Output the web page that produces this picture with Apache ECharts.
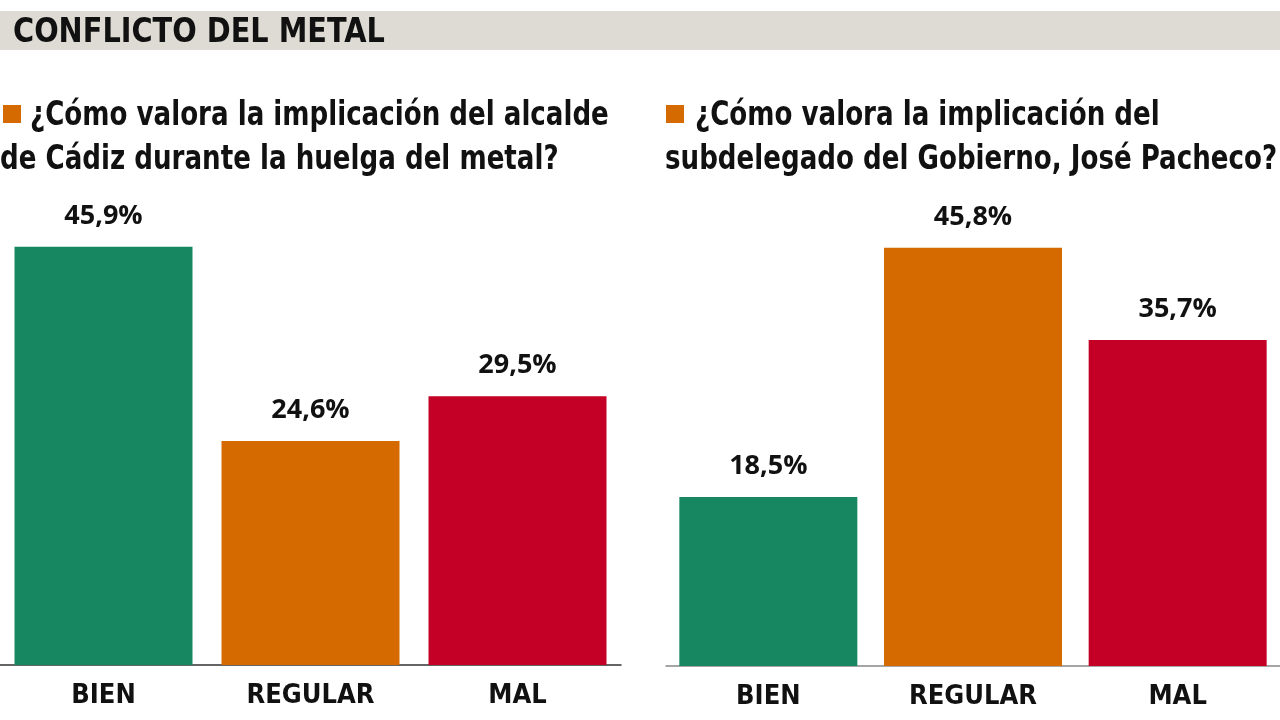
<!DOCTYPE html>
<html>
<head>
<meta charset="utf-8">
<script src="https://cdn.jsdelivr.net/npm/echarts@6/dist/echarts.min.js"></script>
<style>
html,body{margin:0;padding:0;background:#fff;}
#chart{width:1280px;height:720px;}
</style>
</head>
<body>
<div id="chart"></div>
<script>
const categories = ['BIEN', 'REGULAR', 'MAL'];
const alcaldeValues = [45.9, 24.6, 29.5];
const subdelegadoValues = [18.5, 45.8, 35.7];
const barColors = ['#168760', '#d56a00', '#c40026'];
const headerTitle = 'CONFLICTO DEL METAL';
const leftQuestion = ['¿Cómo valora la implicación del alcalde', 'de Cádiz durante la huelga del metal?'];
const rightQuestion = ['¿Cómo valora la implicación del', 'subdelegado del Gobierno, José Pacheco?'];

const condFont = '"Liberation Sans Narrow", "DejaVu Sans Condensed", "Roboto", sans-serif';
const fmt = p => String(p.value).replace('.', ',') + '%';

const chart = echarts.init(document.getElementById('chart'));

function barSeries(values, idx) {
  return {
    type: 'bar',
    xAxisIndex: idx, yAxisIndex: idx,
    barWidth: 178,
    data: values.map((v, i) => ({ value: v, itemStyle: { color: barColors[i] } })),
    label: {
      show: true, position: 'top', distance: 17,
      formatter: fmt,
      fontFamily: '"Open Sans", sans-serif', fontWeight: 700, fontSize: 27, color: '#111'
    }
  };
}

function xAxis(idx, lineColor) {
  return {
    type: 'category', gridIndex: idx, data: categories,
    axisTick: { show: false },
    axisLine: { show: true, lineStyle: { color: lineColor, width: 1.5 } },
    axisLabel: { margin: 17, fontFamily: condFont, fontWeight: 700, fontSize: 27, color: '#111' }
  };
}

function yAxis(idx) {
  return {
    type: 'value', gridIndex: idx, min: 0, max: 50,
    show: false, splitLine: { show: false }
  };
}

function textEl(text, x, y, size, sx) {
  return {
    type: 'text', x: x, y: y, scaleX: sx || 1,
    style: {
      text: text, fill: '#111',
      font: '700 ' + size + 'px ' + condFont,
      textAlign: 'left', verticalAlign: 'middle', textVerticalAlign: 'middle'
    }
  };
}

chart.setOption({
  animation: false,
  grid: [
    { left: 0, width: 621, top: 209.5, bottom: 55 },
    { left: 666, width: 620, top: 209.5, bottom: 54 }
  ],
  xAxis: [xAxis(0, '#333'), xAxis(1, '#888')],
  yAxis: [yAxis(0), yAxis(1)],
  series: [barSeries(alcaldeValues, 0), barSeries(subdelegadoValues, 1)],
  graphic: [
    { type: 'rect', shape: { x: 0, y: 11, width: 1280, height: 39 }, style: { fill: '#dddbd3' } },
    textEl(headerTitle, 13, 33, 33, 0.97),
    { type: 'rect', shape: { x: 3, y: 105, width: 18, height: 18 }, style: { fill: '#d56a00' } },
    textEl(leftQuestion[0], 30, 116, 33, 0.88),
    textEl(leftQuestion[1], 0, 160, 33, 0.88),
    { type: 'rect', shape: { x: 666, y: 105, width: 18, height: 18 }, style: { fill: '#d56a00' } },
    textEl(rightQuestion[0], 695, 116, 33, 0.88),
    textEl(rightQuestion[1], 665, 160, 33, 0.88)
  ]
});
</script>
</body>
</html>
